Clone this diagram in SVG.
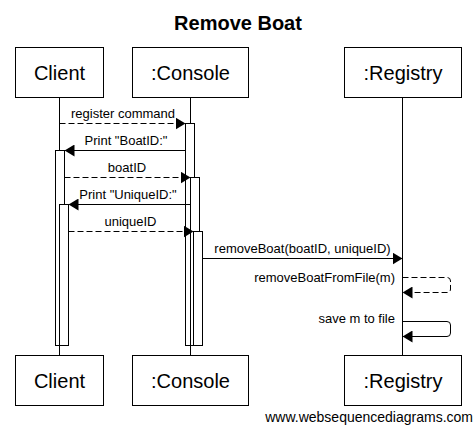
<svg xmlns="http://www.w3.org/2000/svg" width="474" height="428" viewBox="0 0 474 428">
<defs>
<marker id="ah" markerWidth="10" markerHeight="12" refX="10" refY="6" orient="auto" markerUnits="userSpaceOnUse">
<path d="M0,0 L10,6 L0,12 z" fill="#000"/>
</marker>
</defs>
<style>
text{font-family:"Liberation Sans",Arial,sans-serif;fill:#000}
.title{font-size:20px;font-weight:bold;text-anchor:middle}
.node rect{fill:#fff;stroke:#000;stroke-width:1}
.node text{font-size:20px;text-anchor:middle}
.life{stroke:#000;stroke-width:1}
.act{fill:#fff;stroke:#000;stroke-width:1}
.msg{stroke:#000;stroke-width:1;fill:none;marker-end:url(#ah)}
.dash{stroke-dasharray:6,3}
.lbl{font-size:13px;text-anchor:middle}
.lblr{font-size:13px;text-anchor:end}
.wm{font-size:14px;text-anchor:end}
</style>
<rect width="474" height="428" fill="#fff"/>
<text class="title" x="238" y="30">Remove Boat</text>
<g id="lifelines">
<line class="life" x1="59.5" y1="97" x2="59.5" y2="355"/>
<line class="life" x1="190.5" y1="97" x2="190.5" y2="355"/>
<line class="life" x1="402.5" y1="97" x2="402.5" y2="355"/>
</g>
<g id="activations">
<rect class="act" x="55.5" y="150.5" width="9" height="195"/>
<rect class="act" x="59.5" y="204.5" width="9" height="141"/>
<rect class="act" x="185.5" y="123.5" width="9" height="222"/>
<rect class="act" x="190.5" y="177.5" width="9" height="168"/>
<rect class="act" x="193.5" y="231.5" width="9" height="114"/>
</g>
<g id="node-client-top" class="node">
<rect x="15.5" y="47.5" width="88" height="50"/>
<text x="59.5" y="79.5">Client</text>
</g>
<g id="node-console-top" class="node">
<rect x="132.5" y="47.5" width="116" height="50"/>
<text x="190.5" y="79.5">:Console</text>
</g>
<g id="node-registry-top" class="node">
<rect x="344.5" y="47.5" width="117" height="50"/>
<text x="403" y="79.5">:Registry</text>
</g>
<g id="node-client-bottom" class="node">
<rect x="15.5" y="355.5" width="88" height="50"/>
<text x="59.5" y="387.5">Client</text>
</g>
<g id="node-console-bottom" class="node">
<rect x="132.5" y="355.5" width="116" height="50"/>
<text x="190.5" y="387.5">:Console</text>
</g>
<g id="node-registry-bottom" class="node">
<rect x="344.5" y="355.5" width="117" height="50"/>
<text x="403" y="387.5">:Registry</text>
</g>
<g id="connectors">
<line class="msg dash" x1="59.5" y1="123.5" x2="185.5" y2="123.5"/>
<text class="lbl" x="123" y="118">register command</text>
<line class="msg" x1="185.5" y1="150.5" x2="64.5" y2="150.5"/>
<text class="lbl" x="126" y="145">Print "BoatID:"</text>
<line class="msg dash" x1="64.5" y1="177.5" x2="190.5" y2="177.5"/>
<text class="lbl" x="127" y="172">boatID</text>
<line class="msg" x1="190.5" y1="204.5" x2="68.5" y2="204.5"/>
<text class="lbl" x="128" y="199">Print "UniqueID:"</text>
<line class="msg dash" x1="68.5" y1="231.5" x2="193.5" y2="231.5"/>
<text class="lbl" x="130.5" y="226">uniqueID</text>
<line class="msg" x1="202.5" y1="258.5" x2="402.5" y2="258.5"/>
<text class="lbl" x="302.5" y="253">removeBoat(boatID, uniqueID)</text>
<path class="msg dash" d="M402.5,277.5 H447 Q450.5,277.5 450.5,281 V289 Q450.5,292.5 447,292.5 H402.5"/>
<text class="lblr" x="395" y="281.5">removeBoatFromFile(m)</text>
<path class="msg" d="M402.5,321.5 H447 Q450.5,321.5 450.5,325 V333 Q450.5,336.5 447,336.5 H402.5"/>
<text class="lblr" x="395" y="322.5">save m to file</text>
</g>
<text class="wm" x="473" y="422">www.websequencediagrams.com</text>
</svg>
